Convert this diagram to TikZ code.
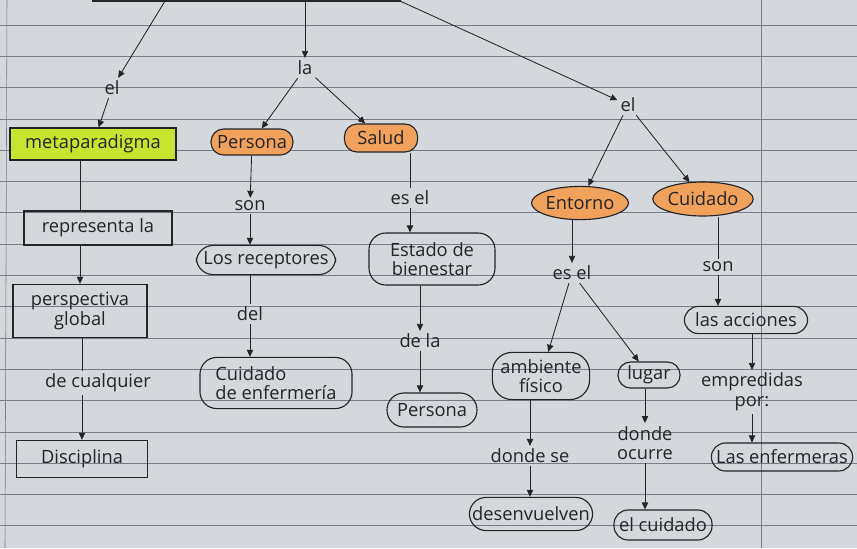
\documentclass[tikz,border=0pt]{standalone}
\usepackage{fontspec}
\setmainfont{Open Sans}
\usetikzlibrary{arrows.meta,shapes.geometric}

\definecolor{papel}{RGB}{212,215,220}
\definecolor{renglon}{RGB}{120,124,132}
\definecolor{tinta}{RGB}{35,35,40}
\definecolor{naranja}{RGB}{240,162,92}
\definecolor{lima}{RGB}{198,228,48}

\tikzset{
  caja/.style={draw=tinta, thick, inner sep=2pt, align=center},
  pastilla/.style={caja, rounded corners=12pt},
  ovalo/.style={draw=tinta, thick, ellipse, inner sep=0pt},
  nexo/.style={inner sep=2pt, align=center},
  flecha/.style={-{Triangle[length=5pt,width=4.5pt]}, semithick, tinta},
  linea/.style={semithick, tinta},
}

\begin{document}
\begin{tikzpicture}[x=0.025cm, y=-0.025cm, font=\fontsize{13}{14}\selectfont, text=tinta]
		% hoja de cuaderno
		\fill[papel] (0,0) rectangle (857,548);
		\useasboundingbox (0,0) rectangle (857,548);
		\foreach \k in {0,...,16}
			\draw[renglon, line width=0.5pt] (0,25+31.3*\k) -- (857,25+31.3*\k);
		\draw[renglon, line width=0.6pt] (761,0) -- (761,548);
		\draw[renglon, line width=0.4pt] (7,0) -- (5,548);
		% caja superior (cortada)
		\draw[tinta, line width=1.8pt] (93,-10) rectangle (400,1);
		\coordinate (t1) at (165,1);
		\coordinate (t2) at (305,1);
		\coordinate (t3) at (400,1);
		% conceptos
		\node[caja, fill=lima, minimum width=4.15cm, minimum height=0.8cm] (meta) at (93,144) {metaparadigma};
		\node[pastilla, fill=naranja, minimum width=2.05cm, minimum height=0.65cm, rounded corners=9pt] (persona) at (252,142) {Persona};
		\node[pastilla, fill=naranja, minimum width=1.83cm, minimum height=0.7cm, rounded corners=9pt] (salud) at (381,138) {Salud};
		\node[ovalo, fill=naranja, minimum width=2.0cm, minimum height=0.83cm] (entorno) at (580,203) {Entorno};
		\node[ovalo, fill=naranja, minimum width=2.23cm, minimum height=0.85cm] (cuidado) at (703,199) {Cuidado};
		\node[caja, minimum width=3.7cm, minimum height=0.85cm] (repres) at (98,228) {representa la};
		\node[caja, minimum width=3.35cm, minimum height=1.33cm] (persp) at (80,311) {perspectiva\\global};
		\node[caja, minimum width=3.28cm, minimum height=0.93cm] (disc) at (82,459) {Disciplina};
		\node[pastilla, minimum width=3.48cm, minimum height=0.73cm] (recep) at (266,260) {Los receptores};
		\node[pastilla, minimum width=3.8cm, minimum height=1.28cm, align=left] (cuidenf) at (276,383) {Cuidado\\de enfermería};
		\node[pastilla, minimum width=3.15cm, minimum height=1.3cm] (estado) at (432,259) {Estado de\\bienestar};
		\node[pastilla, minimum width=2.25cm, minimum height=0.85cm] (persona2) at (432,410) {Persona};
		\node[pastilla, minimum width=2.43cm, minimum height=1.18cm, rounded corners=14pt] (ambiente) at (541,376) {ambiente\\físico};
		\node[pastilla, minimum width=1.55cm, minimum height=0.65cm, rounded corners=9pt] (lugar) at (649,375) {lugar};
		\node[pastilla, minimum width=3.08cm, minimum height=0.83cm] (desenv) at (531,514) {desenvuelven};
		\node[pastilla, minimum width=2.45cm, minimum height=0.75cm, rounded corners=10pt] (elcuidado) at (663,525) {el cuidado};
		\node[pastilla, minimum width=3.08cm, minimum height=0.68cm, rounded corners=10pt] (acciones) at (746,320) {las acciones};
		\node[pastilla, minimum width=3.53cm, minimum height=0.7cm, rounded corners=10pt] (enfermeras) at (782,457) {Las enfermeras};
		% palabras de enlace
		\node[nexo] (el1) at (112,88) {el};
		\node[nexo] (la) at (305,68) {la};
		\node[nexo] (el2) at (628,105) {el};
		\node[nexo] (son1) at (250,206) {son};
		\node[nexo] (del) at (250,314) {del};
		\node[nexo] (esel1) at (410,198) {es el};
		\node[nexo] (dela) at (420,341) {de la};
		\node[nexo] (decualquier) at (98,383) {de cualquier};
		\node[nexo] (esel2) at (572,273) {es el};
		\node[nexo] (dondese) at (530,456) {donde se};
		\node[nexo] (dondeocurre) at (645,443) {donde\\ocurre};
		\node[nexo] (son2) at (718,267) {son};
		\node[nexo] (empredidas) at (752,392) {empredidas\\por:};
		% conectores
		\draw[flecha] (t1) -- (el1);
		\draw[flecha] (t2) -- (la);
		\draw[flecha] (t3) -- (el2);
		\draw[flecha] (el1) -- (meta);
		\draw[flecha] (la) -- (persona);
		\draw[flecha] (la) -- (salud);
		\draw[flecha] (el2) -- (entorno);
		\draw[flecha] (el2) -- (cuidado);
		\draw[linea] (meta.south -| persp) -- (repres.north -| persp);
		\draw[flecha] (repres.south -| persp) -- (persp.north);
		\draw[linea] (persp.south -| disc) -- (decualquier.north -| disc);
		\draw[flecha] (decualquier.south -| disc) -- (disc.north);
		\draw[flecha] (persona) -- (son1);
		\draw[flecha] (son1) -- (son1 |- recep.north);
		\draw[linea] (recep.south -| del) -- (del);
		\draw[flecha] (del) -- (del |- cuidenf.north);
		\draw[linea] (salud.south -| esel1) -- (esel1);
		\draw[flecha] (esel1) -- (esel1 |- estado.north);
		\draw[flecha] (estado.south -| dela) -- (dela);
		\draw[flecha] (dela) -- (dela |- persona2.north);
		\draw[flecha] (entorno.south -| esel2) -- (esel2);
		\draw[flecha] (esel2) -- (ambiente);
		\draw[flecha] (esel2) -- (lugar);
		\draw[flecha] (ambiente.south -| dondese) -- (dondese);
		\draw[flecha] (dondese) -- (dondese |- desenv.north);
		\draw[flecha] (lugar.south -| dondeocurre) -- (dondeocurre);
		\draw[flecha] (dondeocurre) -- (dondeocurre |- elcuidado.north);
		\draw[linea] (cuidado.south -| son2) -- (son2);
		\draw[flecha] (son2) -- (son2 |- acciones.north);
		\draw[flecha] (acciones.south -| empredidas) -- (empredidas);
		\draw[flecha] (empredidas) -- (empredidas |- enfermeras.north);
	\end{tikzpicture}
\end{document}
